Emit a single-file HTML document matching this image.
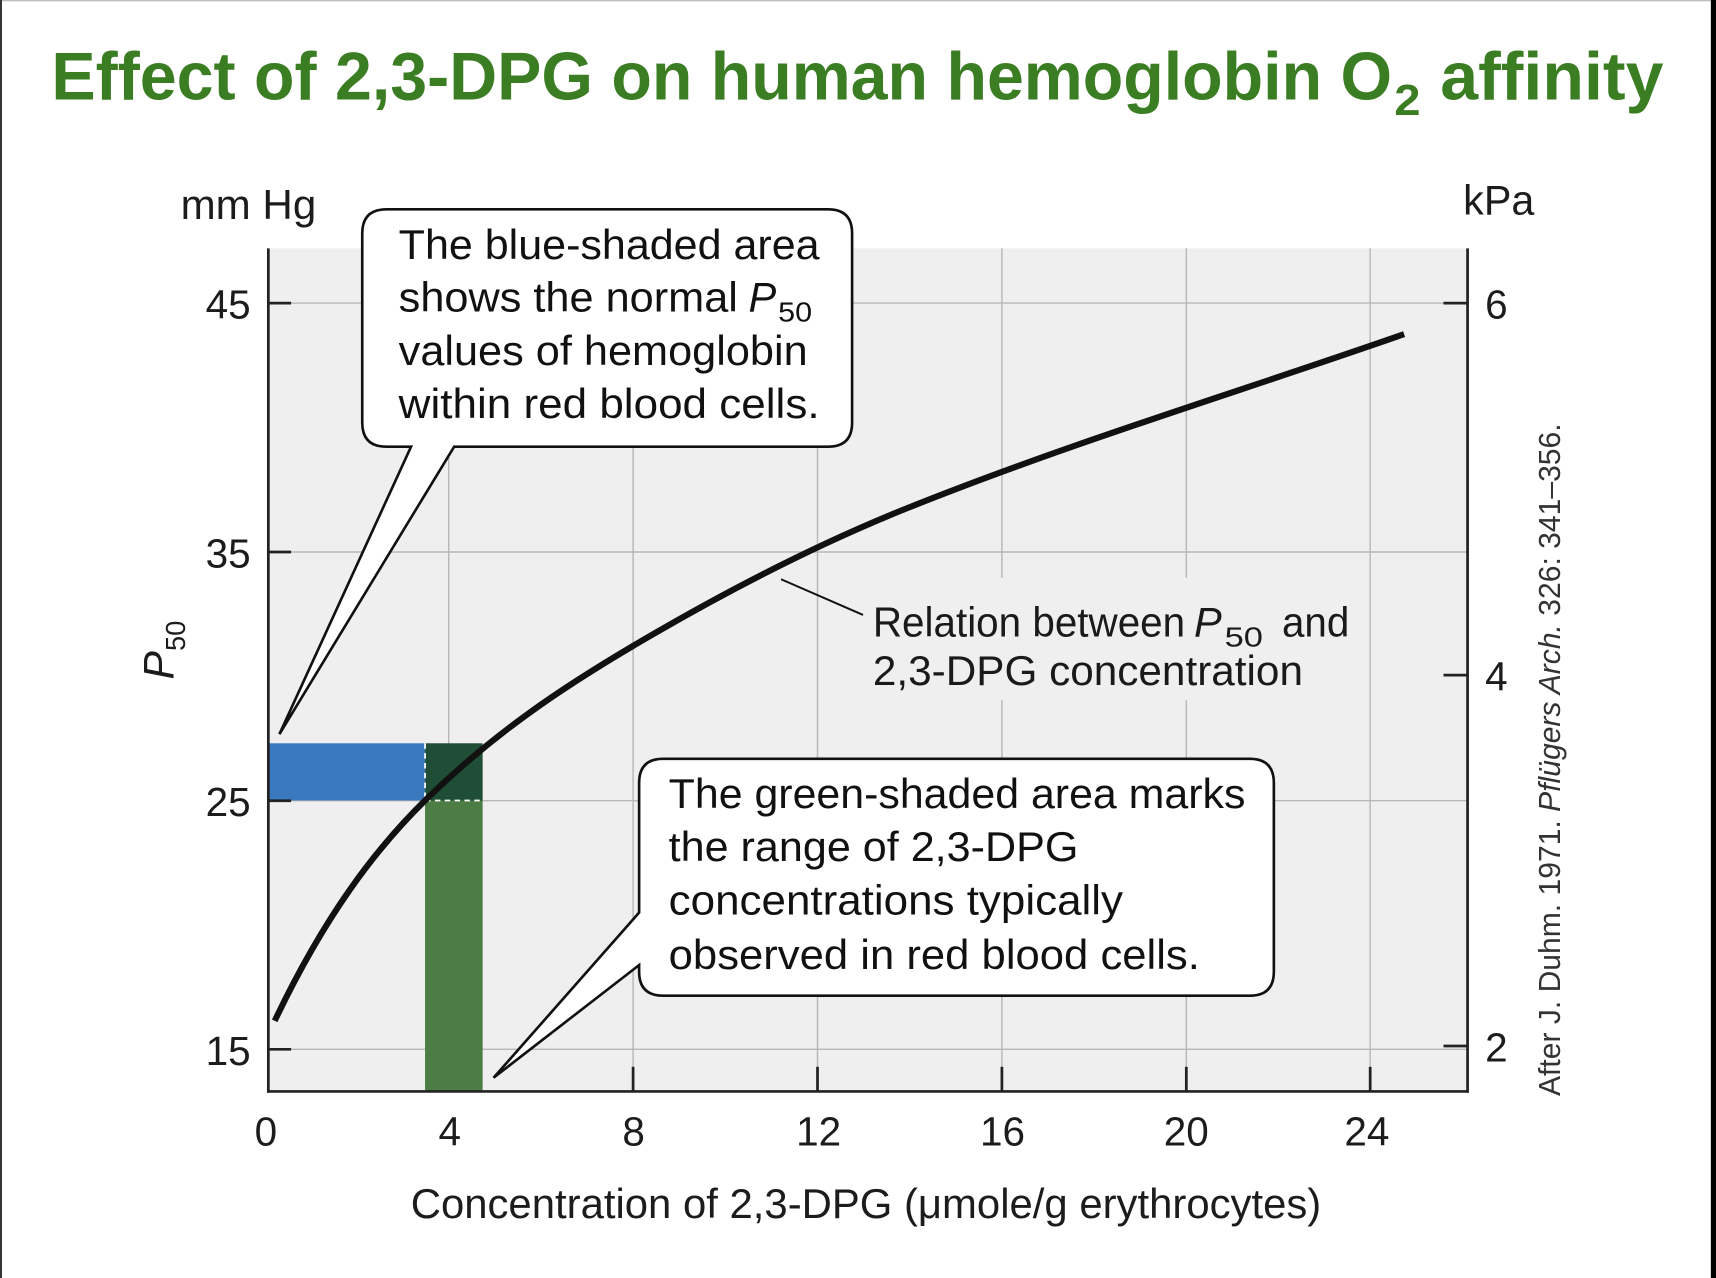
<!DOCTYPE html>
<html>
<head>
<meta charset="utf-8">
<style>
  html, body { margin: 0; padding: 0; background: #ffffff; }
  body { width: 1716px; height: 1278px; overflow: hidden; }
  svg { display: block; }
  text { font-family: "Liberation Sans", Arial, sans-serif; }
</style>
</head>
<body>
<svg xmlns="http://www.w3.org/2000/svg" width="1716" height="1278" viewBox="0 0 1568 1168" preserveAspectRatio="none">
  <!-- page background and borders -->
  <rect x="0" y="0" width="1568" height="1168" fill="#ffffff"/>
  <rect x="0" y="0" width="1568" height="1.2" fill="#bdbdbd"/>
  <rect x="0" y="0" width="1.8" height="1168" fill="#333333"/>
  <rect x="1563.3" y="0" width="4.7" height="1168" fill="#000000"/>

  <!-- Title -->
  <text x="47" y="91" font-size="62" font-weight="bold" fill="#3a7d22" textLength="1225" lengthAdjust="spacingAndGlyphs">Effect of 2,3-DPG on human hemoglobin O</text>
  <text x="1274" y="105" font-size="40" font-weight="bold" fill="#3a7d22" textLength="24" lengthAdjust="spacingAndGlyphs">2</text>
  <text x="1316" y="91" font-size="62" font-weight="bold" fill="#3a7d22" textLength="204" lengthAdjust="spacingAndGlyphs">affinity</text>

  <!-- plot background -->
  <rect x="245" y="227" width="1096" height="771" fill="#efefef"/>

  <!-- grid lines -->
  <g stroke="#b7b7b7" stroke-width="1.3">
    <line x1="245" y1="277" x2="1341" y2="277"/>
    <line x1="245" y1="504.5" x2="1341" y2="504.5"/>
    <line x1="245" y1="731.8" x2="1341" y2="731.8"/>
    <line x1="245" y1="959" x2="1341" y2="959"/>
    <line x1="410" y1="227" x2="410" y2="998"/>
    <line x1="578.5" y1="227" x2="578.5" y2="998"/>
    <line x1="747" y1="227" x2="747" y2="998"/>
    <line x1="915.5" y1="227" x2="915.5" y2="998"/>
    <line x1="1084" y1="227" x2="1084" y2="998"/>
    <line x1="1252" y1="227" x2="1252" y2="998"/>
  </g>

  <!-- knockout behind relation label -->
  <rect x="792" y="528" width="452" height="112" fill="#efefef"/>

  <!-- shaded areas -->
  <rect x="246" y="679.3" width="142.4" height="52.3" fill="#3b79be"/>
  <rect x="388.4" y="679.3" width="52.6" height="52.3" fill="#1f4d36"/>
  <rect x="388.4" y="731.6" width="52.6" height="265.9" fill="#4b7d44"/>
  <g stroke="#ffffff" stroke-width="1.6" stroke-dasharray="5,4" fill="none">
    <line x1="388.4" y1="679.3" x2="388.4" y2="731.6"/>
    <line x1="388.4" y1="731.6" x2="441" y2="731.6"/>
  </g>

  <!-- axes -->
  <g stroke="#222222" stroke-width="2.5" fill="none">
    <line x1="245.2" y1="227" x2="245.2" y2="998.7"/>
    <line x1="244" y1="997.5" x2="1342" y2="997.5"/>
    <line x1="1341" y1="227" x2="1341" y2="998.7"/>
    <!-- left ticks -->
    <line x1="245" y1="277" x2="266" y2="277"/>
    <line x1="245" y1="504.5" x2="266" y2="504.5"/>
    <line x1="245" y1="731.8" x2="266" y2="731.8"/>
    <line x1="245" y1="959" x2="266" y2="959"/>
    <!-- right ticks -->
    <line x1="1319" y1="277" x2="1341" y2="277"/>
    <line x1="1319" y1="617" x2="1341" y2="617"/>
    <line x1="1319" y1="956" x2="1341" y2="956"/>
    <!-- bottom ticks -->
    <line x1="578.5" y1="975" x2="578.5" y2="997"/>
    <line x1="747" y1="975" x2="747" y2="997"/>
    <line x1="915.5" y1="975" x2="915.5" y2="997"/>
    <line x1="1084" y1="975" x2="1084" y2="997"/>
    <line x1="1252" y1="975" x2="1252" y2="997"/>
  </g>

  <!-- curve -->
  <path d="M251,933 C297,836.4 343,776.1 389,731 C452.67,668.6 516.33,627 580,589.4 C663.33,540.2 746.67,497.3 830,464 C981,403.6 1132,358.25 1283,305.4" fill="none" stroke="#111111" stroke-width="5.6" stroke-linecap="butt"/>

  <!-- leader line -->
  <line x1="713.7" y1="529.4" x2="788.6" y2="562" stroke="#111111" stroke-width="1.8"/>

  <!-- callout 1 -->
  <path d="M353,191.3 H756.6 Q778.6,191.3 778.6,213.3 V386.2 Q778.6,408.2 756.6,408.2 H415 L255.3,671 L375.6,408.2 H353 Q331,408.2 331,386.2 V213.3 Q331,191.3 353,191.3 Z" fill="#ffffff" stroke="#111111" stroke-width="2.4" stroke-linejoin="miter"/>

  <!-- callout 2 -->
  <path d="M606,693.5 H1142 Q1164,693.5 1164,715.5 V888 Q1164,910 1142,910 H606 Q584,910 584,888 V882 L451,985 L584,834 V715.5 Q584,693.5 606,693.5 Z" fill="#ffffff" stroke="#111111" stroke-width="2.4" stroke-linejoin="miter"/>

  <!-- callout 1 text -->
  <g font-size="38" fill="#111111">
    <text x="364.3" y="236.7" textLength="384.6" lengthAdjust="spacingAndGlyphs">The blue-shaded area</text>
    <text x="364.3" y="284.8" textLength="310" lengthAdjust="spacingAndGlyphs">shows the normal</text>
    <text x="684" y="284.8" font-style="italic">P</text>
    <text x="711" y="294" font-size="25" textLength="31" lengthAdjust="spacingAndGlyphs">50</text>
    <text x="364.3" y="333.5" textLength="373.7" lengthAdjust="spacingAndGlyphs">values of hemoglobin</text>
    <text x="364.3" y="382" textLength="384.6" lengthAdjust="spacingAndGlyphs">within red blood cells.</text>
  </g>

  <!-- callout 2 text -->
  <g font-size="38" fill="#111111">
    <text x="611" y="738.5" textLength="527" lengthAdjust="spacingAndGlyphs">The green-shaded area marks</text>
    <text x="611" y="787" textLength="374.4" lengthAdjust="spacingAndGlyphs">the range of 2,3-DPG</text>
    <text x="611" y="836" textLength="415.2" lengthAdjust="spacingAndGlyphs">concentrations typically</text>
    <text x="611" y="885.6" textLength="485.4" lengthAdjust="spacingAndGlyphs">observed in red blood cells.</text>
  </g>

  <!-- relation label -->
  <g font-size="38" fill="#1a1a1a">
    <text x="797.6" y="581.8" textLength="285.3" lengthAdjust="spacingAndGlyphs">Relation between</text>
    <text x="1091" y="581.8" font-style="italic">P</text>
    <text x="1119" y="591" font-size="25" textLength="35" lengthAdjust="spacingAndGlyphs">50</text>
    <text x="1171.4" y="581.8" textLength="61.5" lengthAdjust="spacingAndGlyphs">and</text>
    <text x="797.6" y="626" textLength="393" lengthAdjust="spacingAndGlyphs">2,3-DPG concentration</text>
  </g>

  <!-- axis unit labels -->
  <g font-size="38" fill="#1c1c1c">
    <text x="165" y="200" textLength="124" lengthAdjust="spacingAndGlyphs">mm Hg</text>
    <text x="1337" y="196" textLength="65" lengthAdjust="spacingAndGlyphs">kPa</text>
  </g>

  <!-- left tick labels -->
  <g font-size="37" fill="#1c1c1c" text-anchor="end">
    <text x="229" y="291">45</text>
    <text x="229" y="518.5">35</text>
    <text x="229" y="746">25</text>
    <text x="229" y="973.5">15</text>
  </g>

  <!-- right tick labels -->
  <g font-size="37" fill="#1c1c1c">
    <text x="1357" y="291">6</text>
    <text x="1357" y="631">4</text>
    <text x="1357" y="970">2</text>
  </g>

  <!-- bottom tick labels -->
  <g font-size="37" fill="#1c1c1c" text-anchor="middle">
    <text x="243" y="1047">0</text>
    <text x="411" y="1047">4</text>
    <text x="579" y="1047">8</text>
    <text x="748" y="1047">12</text>
    <text x="916" y="1047">16</text>
    <text x="1084" y="1047">20</text>
    <text x="1249" y="1047">24</text>
  </g>

  <!-- x axis title -->
  <text x="375.3" y="1113" font-size="38" fill="#1c1c1c" textLength="832" lengthAdjust="spacingAndGlyphs">Concentration of 2,3-DPG (μmole/g erythrocytes)</text>

  <!-- y axis title P50 -->
  <text transform="translate(158.4,621) rotate(-90)" fill="#1c1c1c"><tspan font-size="39" font-style="italic">P</tspan><tspan font-size="25" dy="10.6">50</tspan></text>

  <!-- citation -->
  <text transform="translate(1425.5,1001.7) rotate(-90)" font-size="27.5" fill="#333333">After J. Duhm. 1971. <tspan font-style="italic">Pflügers Arch.</tspan> 326: 341–356.</text>
</svg>
</body>
</html>
